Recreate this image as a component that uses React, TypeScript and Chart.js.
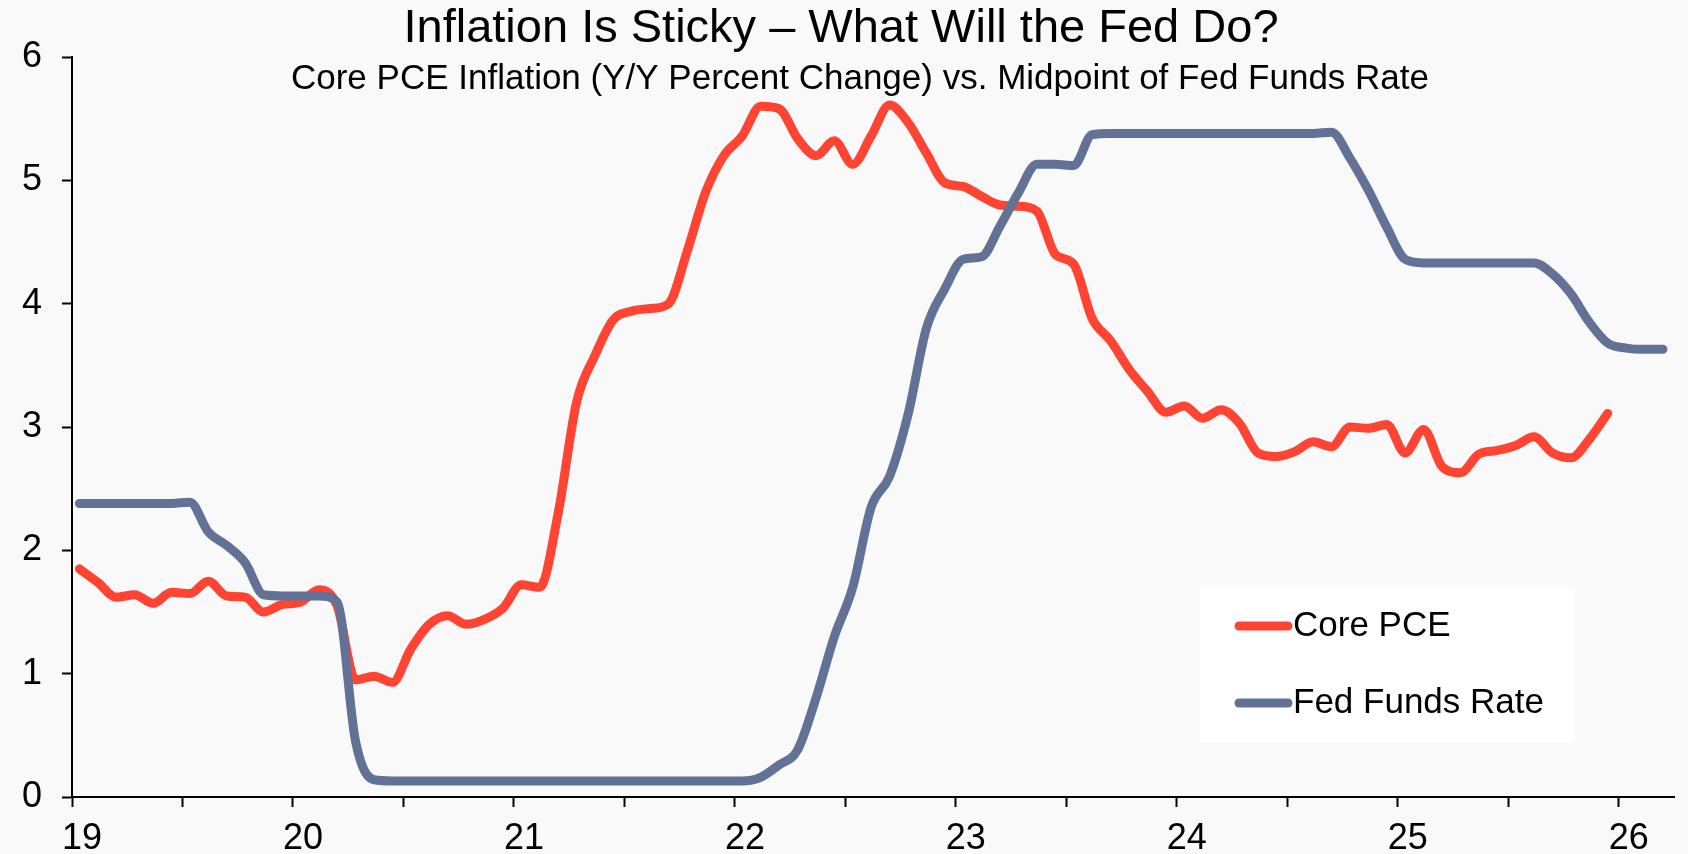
import React, { useEffect, useRef } from 'react';
import { Chart, registerables } from 'chart.js';

Chart.register(...registerables);

// ---------- data ----------
const TITLE = 'Inflation Is Sticky – What Will the Fed Do?';
const SUBTITLE = 'Core PCE Inflation (Y/Y Percent Change) vs. Midpoint of Fed Funds Rate';
const SERIES_NAMES = ['Core PCE', 'Fed Funds Rate'];

// monthly observations starting January 2019 (year shown as two digits)
const START_YEAR = 19;

const PCE_VALUES = [
  1.85, 1.74, 1.62, 1.64, 1.57, 1.66, 1.65, 1.75, 1.63, 1.62, 1.50, 1.56,
  1.58, 1.68, 1.55, 0.95, 0.98, 0.93, 1.20, 1.40, 1.47, 1.40, 1.44, 1.53,
  1.72, 1.70, 2.30, 3.20, 3.58, 3.87, 3.94, 3.96, 4.00, 4.42, 4.90, 5.20,
  5.36, 5.60, 5.58, 5.34, 5.20, 5.32, 5.13, 5.36, 5.61, 5.47, 5.22, 4.98,
  4.95, 4.87, 4.80, 4.79, 4.75, 4.40, 4.32, 3.88, 3.70, 3.47, 3.29, 3.12,
  3.17, 3.07, 3.14, 3.03, 2.79, 2.76, 2.80, 2.88, 2.84, 3.00, 2.99, 3.02,
  2.79, 2.98, 2.68, 2.63, 2.78, 2.81, 2.85, 2.92, 2.79, 2.75, 2.90, 3.11,
];

const FFR_VALUES = [
  2.38, 2.38, 2.38, 2.38, 2.38, 2.38, 2.39, 2.15, 2.04, 1.90, 1.64, 1.63,
  1.63, 1.63, 1.58, 0.45, 0.14, 0.13, 0.13, 0.13, 0.13, 0.13, 0.13, 0.13,
  0.13, 0.13, 0.13, 0.13, 0.13, 0.13, 0.13, 0.13, 0.13, 0.13, 0.13, 0.13,
  0.13, 0.16, 0.26, 0.38, 0.80, 1.30, 1.70, 2.35, 2.60, 3.10, 3.80, 4.12,
  4.36, 4.38, 4.63, 4.90, 5.13, 5.13, 5.12, 5.37, 5.38, 5.38, 5.38, 5.38,
  5.38, 5.38, 5.38, 5.38, 5.38, 5.38, 5.38, 5.38, 5.39, 5.18, 4.92, 4.62,
  4.36, 4.33, 4.33, 4.33, 4.33, 4.33, 4.33, 4.33, 4.24, 4.08, 3.85, 3.68,
  3.64, 3.63, 3.63,
];

const X_TICK_LABELS = ['19', '20', '21', '22', '23', '24', '25', '26'];
const Y_TICK_LABELS = ['0', '1', '2', '3', '4', '5', '6'];

// ---------- styles ----------
const FONT = '"Liberation Sans", Arial, Helvetica, sans-serif';
const COLORS = ['#ff4433', '#627296'];
const BG = '#f9f9f9';
const LINE_W = 9;

const monthPos = (i: number) => START_YEAR + (i + 0.4) / 12;

const overlayPlugin = {
  id: 'overlay',
  beforeDraw(chart: any) {
    const ctx = chart.ctx;
    ctx.save();
    ctx.fillStyle = BG;
    ctx.fillRect(0, 0, chart.width, chart.height);
    ctx.restore();
  },
  afterDraw(chart: any) {
    const ctx = chart.ctx;
    ctx.save();
    ctx.fillStyle = '#000';
    ctx.textAlign = 'center';
    ctx.textBaseline = 'alphabetic';
    ctx.font = `47px ${FONT}`;
    ctx.fillText(TITLE, 841, 42);
    ctx.font = `35px ${FONT}`;
    ctx.fillText(SUBTITLE, 860, 89);

    // legend box
    ctx.fillStyle = '#ffffff';
    ctx.fillRect(1200, 587, 375, 155);
    const rows = [626, 703];
    chart.data.datasets.forEach((ds: any, i: number) => {
      const y = rows[i];
      ctx.strokeStyle = ds.borderColor;
      ctx.lineWidth = LINE_W;
      ctx.lineCap = 'round';
      ctx.beginPath();
      ctx.moveTo(1239, y);
      ctx.lineTo(1288, y);
      ctx.stroke();
      ctx.fillStyle = '#000';
      ctx.textAlign = 'left';
      ctx.font = `35px ${FONT}`;
      ctx.fillText(ds.label, 1293, y + 10);
    });
    ctx.restore();
  },
};

export default function App() {
  const ref = useRef<HTMLCanvasElement | null>(null);

  useEffect(() => {
    if (!ref.current) return;
    const chart = new Chart(ref.current, {
      type: 'line',
      data: {
        datasets: [
          {
            label: SERIES_NAMES[0],
            data: PCE_VALUES.map((v, i) => ({ x: monthPos(i), y: v })),
            borderColor: COLORS[0],
            backgroundColor: COLORS[0],
            borderWidth: LINE_W,
            pointRadius: 0,
            cubicInterpolationMode: 'monotone',
            borderCapStyle: 'round',
            borderJoinStyle: 'round',
            fill: false,
            order: 2,
          },
          {
            label: SERIES_NAMES[1],
            data: FFR_VALUES.map((v, i) => ({ x: monthPos(i), y: v })),
            borderColor: COLORS[1],
            backgroundColor: COLORS[1],
            borderWidth: LINE_W,
            pointRadius: 0,
            cubicInterpolationMode: 'monotone',
            borderCapStyle: 'round',
            borderJoinStyle: 'round',
            fill: false,
            order: 1,
          },
        ],
      },
      options: {
        animation: false,
        responsive: false,
        maintainAspectRatio: false,
        layout: { padding: { top: 57, right: 14, left: 0, bottom: 0 } },
        plugins: {
          legend: { display: false },
          tooltip: { enabled: false },
          title: { display: false },
        },
        scales: {
          x: {
            type: 'linear',
            min: 19,
            max: 26.25,
            afterBuildTicks: (scale: any) => {
              const ticks: any[] = [];
              X_TICK_LABELS.forEach((_, i) => {
                ticks.push({ value: START_YEAR + i });
                if (i < X_TICK_LABELS.length - 1) ticks.push({ value: START_YEAR + i + 0.5 });
              });
              scale.ticks = ticks;
            },
            afterFit: (scale: any) => {
              scale.height = 57;
            },
            ticks: {
              autoSkip: false,
              maxRotation: 0,
              minRotation: 0,
              padding: 10,
              labelOffset: 10,
              color: '#000',
              font: { family: FONT, size: 36 },
              callback: (v: any) => {
                const n = Number(v);
                return Number.isInteger(n) ? X_TICK_LABELS[n - START_YEAR] ?? '' : '';
              },
            },
            grid: {
              drawOnChartArea: false,
              drawTicks: true,
              tickLength: 10,
              tickColor: '#000',
              tickWidth: 2,
            },
            border: { display: true, color: '#000', width: 2 },
          },
          y: {
            type: 'linear',
            min: 0,
            max: 6,
            afterFit: (scale: any) => {
              scale.width = 72;
            },
            ticks: {
              stepSize: 1,
              padding: 20,
              color: '#000',
              font: { family: FONT, size: 36 },
              callback: (v: any) => Y_TICK_LABELS[Number(v)] ?? '',
            },
            grid: {
              drawOnChartArea: false,
              drawTicks: true,
              tickLength: 10,
              tickColor: '#000',
              tickWidth: 2,
            },
            border: { display: true, color: '#000', width: 2 },
          },
        },
      },
      plugins: [overlayPlugin],
    } as any);
    return () => chart.destroy();
  }, []);

  return (
    <div style={{ position: 'fixed', left: 0, top: 0, width: 1688, height: 854, background: BG }}>
      <canvas ref={ref} width={1688} height={854} style={{ width: 1688, height: 854, display: 'block' }} />
    </div>
  );
}
